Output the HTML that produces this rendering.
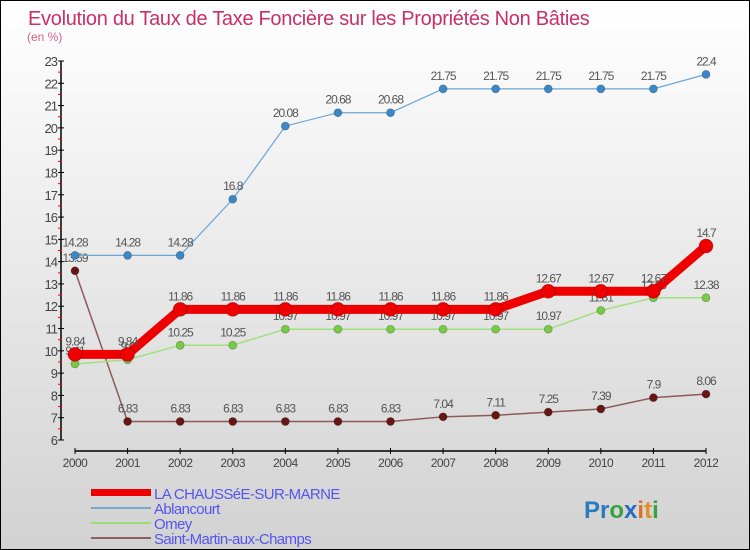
<!DOCTYPE html>
<html><head><meta charset="utf-8"><style>
html,body{margin:0;padding:0}
body{width:750px;height:550px;overflow:hidden;font-family:"Liberation Sans",sans-serif}
#wrap{position:relative;width:748px;height:548px;border:1px solid #000;background:linear-gradient(#ffffff,#d2d2d2)}
svg{position:absolute;left:0;top:0}
</style></head><body>
<div id="wrap">
<svg id="chart" width="748" height="548">
<text x="27" y="24" font-size="20" fill="#c8306a" letter-spacing="-0.3">Evolution du Taux de Taxe Foncière sur les Propriétés Non Bâties</text>
<text x="26" y="40" font-size="12" fill="#d0608a">(en %)</text>
<g>
<rect x="90" y="488" width="60" height="7" fill="#ee0000"/>
<text x="153" y="498" font-size="15" letter-spacing="-0.6" fill="#5555ee">LA CHAUSSéE-SUR-MARNE</text>
<rect x="90" y="506" width="60" height="2" fill="#7aa8cc"/>
<text x="153" y="513" font-size="15" letter-spacing="-0.6" fill="#5555ee">Ablancourt</text>
<rect x="90" y="521" width="60" height="2" fill="#99dd77"/>
<text x="153" y="528" font-size="15" letter-spacing="-0.6" fill="#5555ee">Omey</text>
<rect x="90" y="536" width="60" height="2" fill="#8c6060"/>
<text x="153" y="543" font-size="15" letter-spacing="-0.6" fill="#5555ee">Saint-Martin-aux-Champs</text>
</g>
<text x="583" y="517" font-size="24" font-weight="bold"><tspan fill="#2a7ac0">Pr</tspan><tspan fill="#3aa040">o</tspan><tspan fill="#2a6ac0">x</tspan><tspan fill="#e07020">i</tspan><tspan fill="#e09020">t</tspan><tspan fill="#3aa040">i</tspan></text>
</svg>
</div>
<script>
const years=[2000,2001,2002,2003,2004,2005,2006,2007,2008,2009,2010,2011,2012];
const laChaussee=[9.84,9.84,11.86,11.86,11.86,11.86,11.86,11.86,11.86,12.67,12.67,12.67,14.7];
const ablancourt=[14.28,14.28,14.28,16.8,20.08,20.68,20.68,21.75,21.75,21.75,21.75,21.75,22.4];
const omey=[9.41,9.6,10.25,10.25,10.97,10.97,10.97,10.97,10.97,10.97,11.81,12.38,12.38];
const saintMartin=[13.59,6.83,6.83,6.83,6.83,6.83,6.83,7.04,7.11,7.25,7.39,7.9,8.06];
const yTicks=[6,7,8,9,10,11,12,13,14,15,16,17,18,19,20,21,22,23];

const svg=document.getElementById('chart');
const NS='http://www.w3.org/2000/svg';
const x0=74,x1=705,yMin=6,yMax=23,yTop=60,yBot=439;
function xs(i){return x0+(x1-x0)*i/(years.length-1);}
function ys(v){return yBot-(v-yMin)/(yMax-yMin)*(yBot-yTop);}
function mk(tag,attrs){const e=document.createElementNS(NS,tag);for(const k in attrs)e.setAttribute(k,attrs[k]);svg.appendChild(e);return e;}

let ax=mk('line',{x1:60,y1:yTop,x2:60,y2:yBot,stroke:'#000','stroke-width':1.5});


yTicks.forEach(t=>{
  const y=ys(t);
  const tk=mk('line',{x1:57,y1:y,x2:63,y2:y,stroke:'#000'});
  
  
  const lb=mk('text',{x:56,y:y+5,'font-size':13,'text-anchor':'end',fill:'#444','letter-spacing':'-1'});
  lb.textContent=t;
  
  
  if(t<yMax){const ym=ys(t+0.5);
    const mt=mk('line',{x1:57,y1:ym,x2:61,y2:ym,stroke:'#e00'});
    
    }
});
let xa=mk('line',{x1:xs(0),y1:450,x2:xs(years.length-1),y2:450,stroke:'#000','stroke-width':1.5});


years.forEach((yr,i)=>{
  const x=xs(i);
  const tk=mk('line',{x1:x,y1:447,x2:x,y2:453,stroke:'#000'});
  
  
  const lb=mk('text',{x:x,y:466,'font-size':12,'text-anchor':'middle',fill:'#444','letter-spacing':'-0.5'});
  lb.textContent=yr;
  
  
});

function series(vals,name,color,width,dot,dotColor){
  const pts=vals.map((v,i)=>xs(i)+','+ys(v)).join(' ');
  const pl=mk('polyline',{points:pts,fill:'none',stroke:color,'stroke-width':width,'stroke-linejoin':'miter'});
  
  
  vals.forEach((v,i)=>{
    const c=mk('circle',{cx:xs(i),cy:ys(v),r:dot,fill:dotColor,stroke:'rgba(0,0,0,0.3)','stroke-width':0.7});
    
    
    const t=mk('text',{x:xs(i),y:ys(v)-9,'font-size':12,'text-anchor':'middle',fill:'#555','letter-spacing':'-1'});
    t.textContent=String(v);
    
    
  });
}
series(saintMartin,'saint-martin','#8c5a5a',1.5,4,'#6a1515');
series(omey,'omey','#a0e080',1.5,4,'#77cc44');
series(ablancourt,'ablancourt','#6aa6d6',1.2,4,'#3a88c8');
series(laChaussee,'la-chaussee','#ee0000',9,7,'#ee0000');
</script>
</body></html>
